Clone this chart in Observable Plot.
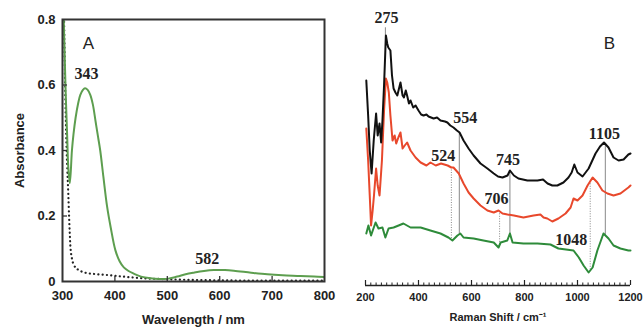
<!DOCTYPE html>
<html><head><meta charset="utf-8">
<script src="https://cdn.jsdelivr.net/npm/d3@7"></script>
<script src="https://cdn.jsdelivr.net/npm/@observablehq/plot@0.6"></script>
<style>
body{margin:0;background:#fff;}
#wrap{display:flex;width:643px;height:327px;overflow:hidden;}
</style></head><body><div id="wrap"></div>
<script>
// ---- Panel A: UV-vis absorbance ----
const uvWavelength = [300,302,304,306,309,311,314,318,321,325,330,334,339,343,348,353,358,363,368,372,378,385,392,401,409,417,426,436,450,468,485,500,519,535,551,570,589,610,627,660,691,720,754,780,800];
const uvSample = [0.95,0.82,0.7,0.58,0.44,0.35,0.30,0.40,0.45,0.50,0.545,0.57,0.585,0.59,0.585,0.57,0.54,0.49,0.44,0.40,0.32,0.23,0.165,0.095,0.062,0.043,0.032,0.024,0.015,0.01,0.008,0.008,0.015,0.022,0.027,0.032,0.035,0.035,0.033,0.027,0.022,0.019,0.017,0.015,0.014];
const uvBlankWl = [300,303,305,307,309,311,313,315,318,322,329,337,346,360,375,392,415,436,465,500,540,580,650,720,800];
const uvBlank = [0.95,0.8,0.6,0.45,0.35,0.27,0.18,0.11,0.07,0.05,0.037,0.03,0.026,0.023,0.021,0.019,0.015,0.012,0.009,0.007,0.005,0.004,0.003,0.003,0.003];
const uvXTicks = [300,400,500,600,700,800];
const uvYTicks = [0,0.2,0.4,0.6,0.8];
const uvPeakLabels = ["343","582"];
const uvPeakPos = [343,582];

// ---- Panel B: Raman spectra ----
const ramanBlackX = [203,210,216,223,231,240,246,253,259,264,270,277,282,286,294,300,306,313,320,332,340,345,352,357,364,370,380,389,400,410,419,430,438,457,470,483,500,509,520,532,545,555,570,589,608,634,660,684,700,717,736,745,760,777,811,849,870,887,905,924,947,966,978,988,1000,1019,1042,1068,1085,1100,1117,1136,1155,1174,1192,1200];
const ramanBlackY = [205,170,135,112,145,172,150,162,143,165,200,250,242,238,235,210,197,193,190,203,190,188,195,190,182,185,178,180,175,171,170,171,169,167,168,165,164,163,160,158,155,153,145,137,130,122,117,112,109,108,110,115,110,107,105,105,106,102,100,100,103,108,113,121,113,109,117,132,139,143,138,128,125,126,131,132];
const ramanRedX = [203,210,216,221,227,232,240,246,253,262,270,277,282,288,294,302,310,316,324,332,340,348,357,370,389,408,430,445,465,485,510,524,532,552,570,589,608,634,660,684,702,717,736,760,796,834,860,872,886,905,928,955,974,985,1000,1019,1038,1057,1075,1094,1113,1136,1162,1192,1200];
const ramanRedY = [157,125,90,60,75,90,117,100,90,125,175,207,203,193,170,145,150,142,148,153,137,140,143,135,128,123,120,123,120,122,120,118,118,112,102,93,87,80,75,73,75,72,71,70,68,70,71,68,67,64,67,72,78,87,85,90,100,108,103,95,92,90,92,98,100];
const ramanGreenX = [203,211,221,230,238,249,264,275,287,306,325,343,370,408,445,483,513,528,547,558,570,608,645,684,702,710,735,745,755,796,849,898,928,985,1005,1023,1042,1057,1075,1098,1117,1136,1162,1192,1200];
const ramanGreenY = [52,60,50,57,63,57,58,48,57,58,60,62,58,58,55,52,48,45,50,52,48,47,45,43,38,43,45,52,43,42,42,41,37,35,28,20,13,18,35,52,47,40,37,35,35];
const ramanXTicks = [200,400,600,800,1000,1200];
const ramanPeakLabels = ["275","554","524","745","706","1105","1048"];
const ramanPeakPos = [275,554,524,745,706,1105,1048];
const ramanPeakSeries = ["black","black","red","black","red","black","green"];
const ramanSolidLines = [554,745,1105];
const ramanDottedLines = [524,706,1048];

// helpers
function interp(xs, ys, x){
  for(let i=0;i<xs.length-1;i++){
    if(x>=xs[i] && x<=xs[i+1]){const t=(x-xs[i])/(xs[i+1]-xs[i]);return ys[i]+t*(ys[i+1]-ys[i]);}
  }
  return x<xs[0]?ys[0]:ys[ys.length-1];
}
const series = {black:[ramanBlackX,ramanBlackY], red:[ramanRedX,ramanRedY], green:[ramanGreenX,ramanGreenY]};
const val = (s,x)=>interp(series[s][0], series[s][1], x);

const tA = uvWavelength.map((w,i)=>({w,a:uvSample[i]}));
const tBlank = uvBlankWl.map((w,i)=>({w,a:uvBlank[i]}));
const uvLabelOffsets = [[1.5,-14],[-3,-12]];
const tUvLabels = uvPeakLabels.map((t,i)=>({t,x:uvPeakPos[i],y:interp(uvWavelength,uvSample,uvPeakPos[i]),dx:uvLabelOffsets[i][0],dy:uvLabelOffsets[i][1]}));
const fmtA = d => d === 0 ? "0" : d3.format(".1f")(d);

const plotA = Plot.plot({
  width:330, height:327, marginLeft:62, marginRight:6, marginTop:19, marginBottom:46,
  x:{domain:[300,800]}, y:{domain:[0,0.8]},
  style:{fontFamily:"'Liberation Sans', Arial, sans-serif", fontSize:"13px", fontWeight:"bold", color:"#222", background:"transparent", overflow:"visible"},
  marks:[
    Plot.line(tBlank,{x:"w",y:"a",stroke:"#222",strokeWidth:2.2,strokeDasharray:"0.1,4.2",strokeLinecap:"round",clip:true,curve:"monotone-x"}),
    Plot.line(tA,{x:"w",y:"a",stroke:"#5d9e4f",strokeWidth:2,clip:true,curve:"catmull-rom"}),
    Plot.ruleX(uvXTicks.slice(1,-1),{x:d=>d,y1:0,y2:0,insetBottom:5,stroke:"#333",strokeWidth:1.3}),
    Plot.ruleY(uvYTicks.slice(1,-1),{y:d=>d,x1:300,x2:300,insetRight:-5,stroke:"#333",strokeWidth:1.3}),
    Plot.frame({stroke:"#333",strokeWidth:2}),
    Plot.axisX(uvXTicks,{tickSize:0,tickPadding:9,tickFormat:"d",label:"Wavelength / nm",labelAnchor:"center",labelOffset:42,labelArrow:"none"}),
    Plot.axisY(uvYTicks,{tickSize:0,tickPadding:7,tickFormat:fmtA,label:"Absorbance",labelAnchor:"center",labelOffset:48,labelArrow:"none"}),
    Plot.text(tUvLabels,{x:"x",y:"y",text:"t",fontFamily:"'Liberation Serif', 'Times New Roman', serif",fontSize:16,fontWeight:"bold",fill:"#222"}),
    Plot.text(["A"],{frameAnchor:"top-left",dx:26,dy:24,textAnchor:"middle",lineAnchor:"middle",fontSize:17,fontWeight:"normal",fill:"#222"})
  ]
});

const tBlack = ramanBlackX.map((x,i)=>({x,y:ramanBlackY[i]}));
const tRed = ramanRedX.map((x,i)=>({x,y:ramanRedY[i]}));
const tGreen = ramanGreenX.map((x,i)=>({x,y:ramanGreenY[i]}));
const ramanLabelOffsets = [[1,-32],[6,-14],[-8,-12],[-2,-11],[-3,-12],[-1,-10],[-19,-31]];
const tRamanLabels = ramanPeakLabels.map((t,i)=>({t,x:ramanPeakPos[i],y:val(ramanPeakSeries[i],ramanPeakPos[i]),dx:ramanLabelOffsets[i][0],dy:ramanLabelOffsets[i][1]}));
const tSolid = ramanSolidLines.map(x=>({x,y1:val("black",x),y2:val("green",x)}));
const tDotted = ramanDottedLines.map(x=>({x,y1:val("red",x),y2:val("green",x)}));
const minorTicks = d3.range(200,1201,20);

const plotB = Plot.plot({
  width:313, height:327, marginLeft:35, marginRight:13, marginTop:20, marginBottom:42,
  x:{domain:[200,1200]}, y:{domain:[0,265], axis:null},
  style:{fontFamily:"'Liberation Sans', Arial, sans-serif", fontSize:"11px", fontWeight:"bold", color:"#222", background:"transparent", overflow:"visible"},
  marks:[
    Plot.ruleY([0],{stroke:"#222",strokeWidth:1.3}),
    Plot.ruleX(minorTicks,{x:d=>d,y1:0,y2:0,insetBottom:2.5,stroke:"#222",strokeWidth:1}),
    Plot.ruleX(ramanXTicks,{x:d=>d,y1:0,y2:0,insetBottom:5,stroke:"#222",strokeWidth:1.2}),
    Plot.axisX(ramanXTicks,{tickSize:0,tickPadding:8,tickFormat:"d",label:"Raman Shift / cm⁻¹",labelAnchor:"center",labelOffset:35,labelArrow:"none"}),
    Plot.ruleX(tSolid,{x:"x",y1:"y1",y2:"y2",stroke:"#888",strokeWidth:1}),
    Plot.ruleX(tDotted,{x:"x",y1:"y1",y2:"y2",stroke:"#888",strokeWidth:1,strokeDasharray:"1,1.5"}),
    Plot.ruleX([275],{x:d=>d,y1:d=>val("black",d),y2:d=>val("black",d),insetTop:-22,stroke:"#888",strokeWidth:1}),
    Plot.line(tGreen,{x:"x",y:"y",stroke:"#2e8b3a",strokeWidth:2}),
    Plot.line(tRed,{x:"x",y:"y",stroke:"#e8482c",strokeWidth:2}),
    Plot.line(tBlack,{x:"x",y:"y",stroke:"#111",strokeWidth:2}),
    Plot.text(tRamanLabels,{x:"x",y:"y",text:"t",fontFamily:"'Liberation Serif', 'Times New Roman', serif",fontSize:16,fontWeight:"bold",fill:"#222"}),
    Plot.text(["B"],{frameAnchor:"top-right",dx:-21,dy:23,textAnchor:"middle",lineAnchor:"middle",fontSize:17,fontWeight:"normal",fill:"#222"})
  ]
});

// per-datum dx/dy offsets for peak labels
function shiftLabels(svg, labels){
  const texts = Array.from(svg.querySelectorAll("g[aria-label='text'] text")).filter(t=>labels.some(l=>l.t===t.textContent));
  texts.forEach(t=>{
    const l = labels.find(l=>l.t===t.textContent);
    const tr = t.getAttribute("transform")||"";
    t.setAttribute("transform", tr + ` translate(${l.dx},${l.dy})`);
  });
}
shiftLabels(plotA, tUvLabels);
shiftLabels(plotB, tRamanLabels);

document.getElementById("wrap").append(plotA, plotB);
</script></body></html>
